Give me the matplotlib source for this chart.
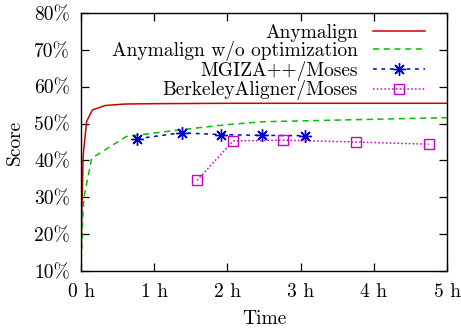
import matplotlib
matplotlib.use("Agg")
import matplotlib.pyplot as plt
from matplotlib.ticker import FuncFormatter

# Data (time in hours, score in %)
any_t = [0.0, 0.01, 0.03, 0.077, 0.155, 0.33, 0.6, 1.0, 2.0, 3.0, 4.0, 5.0]
any_s = [10.0, 25.0, 41.5, 50.6, 53.7, 54.9, 55.3, 55.4, 55.5, 55.5, 55.5, 55.5]

noopt_t = [0.0, 0.02, 0.04, 0.146, 0.62, 1.35, 1.99, 2.49, 5.0]
noopt_s = [10.0, 23.0, 30.0, 40.6, 46.5, 48.3, 49.7, 50.5, 51.6]

mgiza_t = [0.77, 1.375, 1.91, 2.47, 3.06]
mgiza_s = [45.9, 47.5, 47.0, 46.8, 46.7]

berk_t = [1.585, 2.08, 2.76, 3.75, 4.75]
berk_s = [34.6, 45.3, 45.5, 45.0, 44.4]

xticks = [0, 1, 2, 3, 4, 5]
yticks = [10, 20, 30, 40, 50, 60, 70, 80]

plt.rcParams['font.family'] = 'cmr10'
plt.rcParams['axes.formatter.use_mathtext'] = True
plt.rcParams['font.size'] = 14

W, H = 461, 329
L, R, T, B = 81, 447, 13, 271

fig = plt.figure(figsize=(W/100, H/100), dpi=100)
ax = fig.add_axes([L/W, 1-B/H, (R-L)/W, (B-T)/H])

ax.plot(any_t, any_s, color='#cc0000', lw=1.1, label='Anymalign')
ax.plot(noopt_t, noopt_s, color='#00c000', lw=1.1, dashes=(4, 3), label='Anymalign w/o optimization')
ax.plot(mgiza_t, mgiza_s, color='#0000cc', lw=1.1, dashes=(2.5, 3), marker=(8, 2, 0),
        markersize=9, markeredgewidth=1.0, label='MGIZA++/Moses')
ax.plot(berk_t, berk_s, color='#cc00cc', lw=1.1, dashes=(1, 1.5), marker='s',
        markersize=7.5, markerfacecolor='none', markeredgewidth=1.0, label='BerkeleyAligner/Moses')

ax.set_xlim(0, 5)
ax.set_ylim(10, 80)
ax.set_xticks(xticks)
ax.set_yticks(yticks)
ax.xaxis.set_major_formatter(FuncFormatter(lambda v, p: f"{int(v)} h"))
ax.yaxis.set_major_formatter(FuncFormatter(lambda v, p: f"{int(v)}%"))
ax.tick_params(direction='in', length=6, width=0.9, top=True, right=True)
ax.tick_params(axis='y', pad=8)
ax.tick_params(axis='x', pad=9)
for s in ax.spines.values():
    s.set_linewidth(1.0)
ax.set_xlabel('Time', va='center')
ax.set_ylabel('Score', va='center')
ax.xaxis.set_label_coords(0.5, (B-319)/(B-T))
ax.yaxis.set_label_coords((15-L)/(R-L), 0.5)

leg = ax.legend(loc='upper right', bbox_to_anchor=((425-L)/(R-L), (B-23.5)/(B-T)), frameon=False,
                markerfirst=False, handlelength=2.7, handletextpad=0.75, labelspacing=-0.02,
                borderpad=0, borderaxespad=0)

fig.savefig('out.png', dpi=100)
